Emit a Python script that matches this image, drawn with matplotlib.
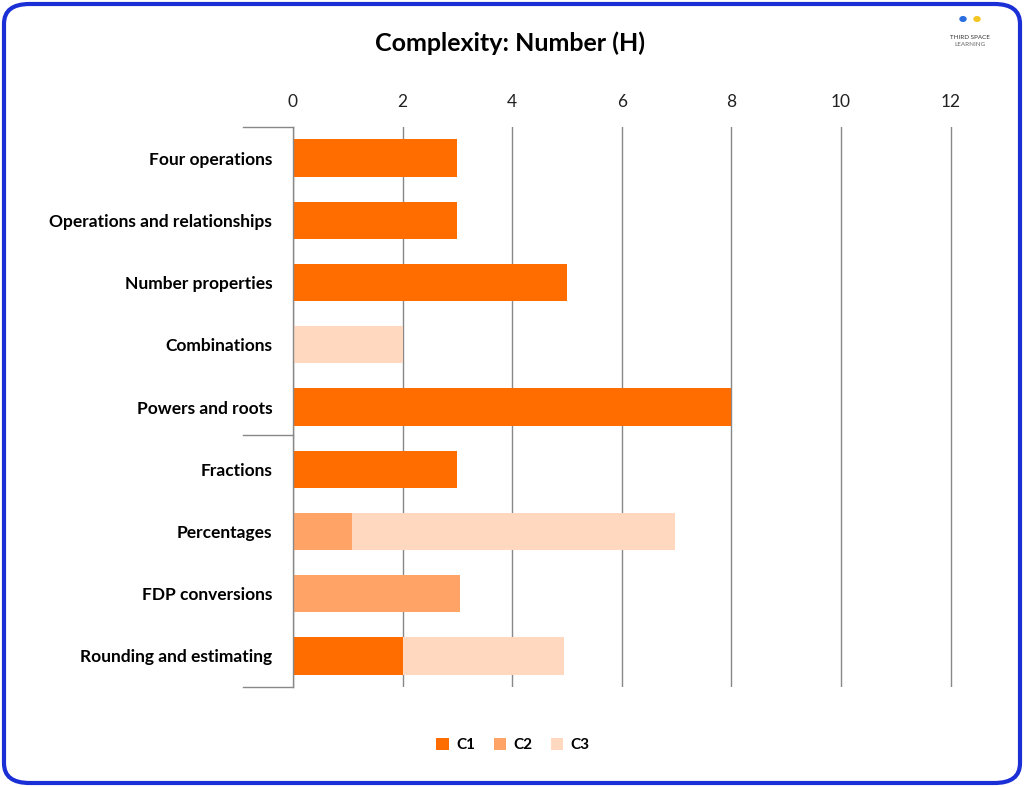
import matplotlib.pyplot as plt
from matplotlib.patches import FancyBboxPatch, Circle
from matplotlib.lines import Line2D
import numpy as np

categories = ["Four operations", "Operations and relationships", "Number properties",
              "Combinations", "Powers and roots", "Fractions", "Percentages",
              "FDP conversions", "Rounding and estimating"]
c1 = [3, 3, 5, 0, 8, 3, 0, 0, 2]
c2 = [0, 0, 0, 0, 0, 0, 1.07, 3.05, 0]
c3 = [0, 0, 0, 2, 0, 0, 5.9, 0, 2.95]
xticks = [0, 2, 4, 6, 8, 10, 12]

colours = {"C1": "#ff6d01", "C2": "#ffa466", "C3": "#ffd8bf"}
W, H = 1024, 787

plt.rcParams["font.family"] = "Lato"
fig = plt.figure(figsize=(W / 100, H / 100), dpi=100)

# rounded border
fig.patches.append(FancyBboxPatch((4 / W, 4 / H), 1 - 8 / W, 1 - 8 / H,
                                  boxstyle="round,pad=0,rounding_size=0.025",
                                  transform=fig.transFigure, fill=False,
                                  edgecolor="#1a2fd6", linewidth=3))

ax = fig.add_axes([293 / W, (H - 687) / H, (1000 - 293) / W, (687 - 127) / H])
y = np.arange(len(categories))
left = np.zeros(len(categories))
for name, vals in (("C1", c1), ("C2", c2), ("C3", c3)):
    vals = np.array(vals, dtype=float)
    ax.barh(y, vals, left=left, height=0.6, color=colours[name], label=name, zorder=3)
    left += vals

ax.set_ylim(len(categories) - 0.5, -0.5)
ax.set_xlim(0, 12.9)
ax.set_xticks(xticks)
ax.xaxis.tick_top()
ax.tick_params(axis="x", length=0, labelsize=12.5, colors="#222222", pad=12)
ax.set_yticks(y)
ax.set_yticklabels(categories, fontsize=12.5, fontweight="bold")
ax.tick_params(axis="y", length=0, pad=15)
ax.grid(axis="x", color="#888888", linewidth=1, zorder=0)
for s in ax.spines.values():
    s.set_visible(False)

# left axis line with group separators
for yy in (127, 435, 687):
    fig.add_artist(Line2D([243 / W, 293 / W], [1 - yy / H] * 2, color="#888888", lw=1))
fig.add_artist(Line2D([293 / W] * 2, [1 - 127 / H, 1 - 687 / H], color="#888888", lw=1))

fig.text(510 / W, 1 - 43 / H, "Complexity: Number (H)", ha="center", va="center",
         fontsize=18, fontweight="bold")

fig.legend(loc="center", bbox_to_anchor=(513 / W, 1 - 745 / H), ncol=3, frameon=False,
           handlelength=0.8, handleheight=0.8, columnspacing=1.2,
           handletextpad=0.5, prop={"weight": "bold", "size": 11})

# small logo
fig.text(970 / W, 1 - 39 / H, "THIRD SPACE", ha="center", fontsize=4.5, color="#333333")
fig.text(970 / W, 1 - 46 / H, "LEARNING", ha="center", fontsize=4.5, color="#666666")
fig.patches.append(Circle((963 / W, 1 - 19 / H), 3 / W, transform=fig.transFigure, color="#2a6de0"))
fig.patches.append(Circle((977 / W, 1 - 19 / H), 3 / W, transform=fig.transFigure, color="#f3c623"))

fig.savefig("out.png", dpi=100, facecolor="white")
